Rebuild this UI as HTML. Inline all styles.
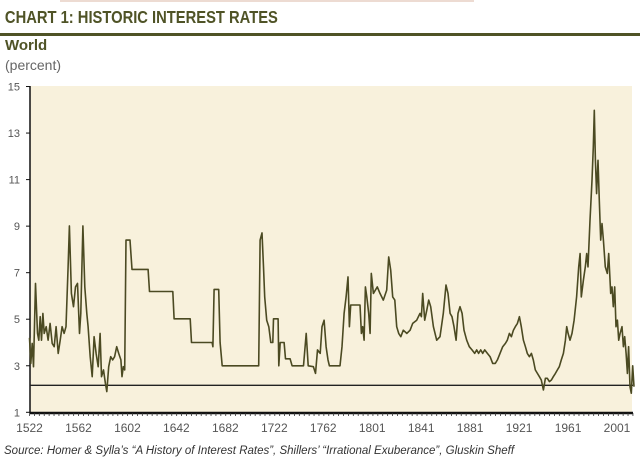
<!DOCTYPE html>
<html><head><meta charset="utf-8"><style>
html,body{margin:0;padding:0;background:#fff;}
body{width:640px;height:460px;overflow:hidden;position:relative;font-family:"Liberation Sans",sans-serif;}
svg{position:absolute;left:0;top:0;}
</style></head><body>
<svg width="640" height="460">
  <line x1="60" y1="1" x2="474" y2="1" stroke="#e7cfc4" stroke-width="1.5"/>
  <text x="6" y="23" font-size="18" font-weight="bold" fill="#4f5326" transform="scale(0.82,1)">CHART 1: HISTORIC INTEREST RATES</text>
  <rect x="0" y="33" width="640" height="3" fill="#4f5326"/>
  <text x="5" y="50" font-size="15" font-weight="bold" fill="#4f5326">World</text>
  <text x="5" y="70" font-size="14" fill="#666">(percent)</text>
  <rect x="30" y="86" width="602" height="326" fill="#f8f1dc"/>
  <g id="yaxis"></g>
  <g id="xaxis"></g>
  <g id="series"></g>
  <text x="4" y="454" font-size="11.5" font-style="italic" fill="#333">Source: Homer &amp; Sylla’s “A History of Interest Rates”, Shillers’ “Irrational Exuberance”, Gluskin Sheff</text>
</svg>
<script>
const yTicks=[1,3,5,7,9,11,13,15];
const xTickLabels=[1522,1562,1602,1642,1682,1722,1762,1801,1841,1881,1921,1961,2001];
const referenceLevel=2.16;
const years=[1522,1523.1,1524.2,1525.3,1526.9,1528.5,1529.6,1530.7,1531.8,1532.9,1534.0,1535.6,1537.2,1538.8,1540.5,1542.1,1543.7,1545.4,1547.0,1548.6,1550.2,1551.8,1553.5,1554.5,1556.2,1557.9,1559.5,1561.1,1562.8,1563.8,1565.5,1567.1,1568.7,1569.8,1571.5,1573.1,1574.7,1576.3,1578.0,1579.6,1580.7,1582.3,1583.9,1585.0,1586.6,1588.2,1589.8,1591.4,1593.1,1594.7,1596.5,1597.4,1598.5,1599.6,1600.7,1603.9,1605.6,1618.7,1619.8,1638.8,1639.9,1653.0,1654.1,1670.9,1671.5,1672.5,1676.3,1677.4,1679.1,1708.9,1710.0,1711.6,1712.8,1713.8,1715.4,1717.1,1718.7,1720.4,1720.9,1724.7,1725.3,1726.4,1729.6,1730.7,1734.5,1736.1,1745.4,1747.6,1749.2,1753.5,1755.2,1756.8,1759.0,
1760.5,1762.2,1763.8,1765.4,1766.5,1775.2,1776.8,1778.5,1780.1,1781.7,1782.8,1783.9,1791.5,1792.6,1793.7,1794.8,1795.9,1797.0,1798.6,1799.7,1800.7,1802.4,1804.0,1805.6,1807.8,1810.5,1813.2,1814.9,1816.5,1818.1,1819.8,1821.4,1823.0,1824.7,1826.8,1829.6,1832.3,1834.4,1837.7,1840.4,1841.5,1842.6,1844.2,1845.9,1847.5,1849.1,1851.3,1854.0,1856.7,1859.4,1861.6,1863.2,1864.9,1866.5,1868.1,1869.8,1871.4,1873.0,1874.7,1876.3,1878.5,1880.6,1882.8,1885.0,1886.6,1888.2,1889.9,1891.5,1893.1,1895.3,1897.5,1899.7,1901.8,1903.5,1905.6,1907.8,1910.0,1911.6,1913.3,1914.9,1916.5,1918.1,1919.8,1921.4,1923.0,1924.7,1926.3,1927.9,1929.6,1931.2,1932.8,1934.4,1936.1,1937.7,1939.3,1941.0,1942.6,1944.2,1945.9,1947.5,1949.1,1950.8,1952.4,1954.0,1955.6,1957.3,1958.9,1960.0,1961.1,1962.7,1964.3,1966.0,1968.1,1969.8,1970.9,1971.9,1973.6,1975.2,1976.3,1977.4,1979.0,1980.6,1981.7,1982.5,1983.4,1984.4,1985.5,1986.6,1987.7,1988.8,1989.9,1991.5,1993.1,1994.2,1995.9,1996.9,1998.0,1999.1,2000.2,2001.3,2002.4,2003.5,2005.1,2006.2,2007.3,2008.4,2009.5,2010.5,2011.6,2012.7,2013.8,2014.9];
const rates=[4.2,3.1,3.96,2.96,6.54,4.39,4.10,5.11,4.10,5.25,4.39,4.68,4.10,4.82,3.96,3.82,4.68,3.53,4.10,4.68,4.39,4.68,7.25,9.01,6.11,5.54,6.39,6.54,4.39,5.25,9.01,6.39,5.25,4.68,3.39,2.53,4.25,3.53,2.96,4.39,2.53,2.82,2.24,1.89,2.96,3.39,3.25,3.39,3.82,3.53,3.25,2.53,2.96,2.82,8.40,8.40,7.14,7.14,6.19,6.19,5.02,5.02,4.00,4.00,3.82,6.28,6.28,4.00,3.00,3.00,8.40,8.71,7.25,5.96,4.96,4.68,4.00,4.00,5.02,5.02,3.00,4.00,4.00,3.30,3.30,3.00,3.00,4.39,3.00,2.96,2.67,3.68,3.53,
4.68,4.96,3.82,3.25,3.00,3.00,3.82,5.25,5.96,6.82,4.68,5.61,5.61,4.39,4.68,4.10,6.39,5.96,5.25,4.39,6.97,6.11,6.25,6.39,6.11,5.82,6.25,7.68,7.11,5.96,5.82,4.68,4.39,4.25,4.53,4.39,4.53,4.82,4.96,5.25,5.11,6.11,4.96,5.39,5.82,5.54,4.68,4.10,4.25,5.25,6.47,6.11,5.25,5.11,4.68,4.10,5.25,5.54,5.25,4.53,4.10,3.82,3.68,3.53,3.68,3.53,3.68,3.53,3.68,3.53,3.39,3.10,3.10,3.25,3.53,3.82,3.96,4.10,4.39,4.25,4.53,4.68,4.82,5.11,4.68,4.10,3.82,3.53,3.39,3.53,3.25,2.82,2.67,2.53,2.39,1.96,2.46,2.46,2.32,2.39,2.53,2.67,2.82,2.96,3.25,3.53,4.10,4.68,4.39,4.10,4.39,4.96,5.96,7.25,7.82,5.96,6.68,7.25,7.82,7.25,9.25,10.97,12.40,13.98,11.83,10.40,11.83,10.11,8.40,9.11,8.40,7.25,6.97,7.82,6.11,6.39,5.54,6.39,4.68,4.96,4.10,4.39,4.68,3.82,4.25,3.53,2.67,3.82,2.10,1.82,3.00,2.10];

const NS='http://www.w3.org/2000/svg';
const X=y=>29.5+(y-1522)*1.2265;
const Y=v=>412.3-(v-1)*23.27;
function mk(tag,attrs,parent){const e=document.createElementNS(NS,tag);for(const k in attrs)e.setAttribute(k,attrs[k]);parent.appendChild(e);return e;}
const ya=document.getElementById('yaxis'),xa=document.getElementById('xaxis'),sg=document.getElementById('series');
mk('line',{x1:30,y1:86,x2:30,y2:413,stroke:'#111','stroke-width':1.5},ya);
yTicks.forEach(v=>{
  const t=mk('text',{x:20,y:Y(v)+4,'font-size':11,fill:'#555','text-anchor':'end'},ya);
  t.textContent=v;
  
  
  mk('line',{x1:26,y1:Y(v),x2:30,y2:Y(v),stroke:'#111','stroke-width':1},ya);
});
mk('line',{x1:30,y1:413,x2:633,y2:413,stroke:'#111','stroke-width':2.5},xa);
for(let yr=1522;X(yr)<=633;yr+=4){mk('line',{x1:X(yr),y1:413,x2:X(yr),y2:416,stroke:'#333','stroke-width':0.8},xa);}
xTickLabels.forEach((yr,i)=>{
  const t=mk('text',{x:29.5+i*48.96,y:432,'font-size':12,fill:'#555','text-anchor':'middle'},xa);
  t.textContent=yr;
  
  
});
const ref=mk('line',{x1:30,y1:Y(referenceLevel),x2:633,y2:Y(referenceLevel),stroke:'#222','stroke-width':1.3},sg);


let d='';years.forEach((yr,i)=>{d+=(i?'L':'M')+X(yr).toFixed(1)+','+Y(rates[i]).toFixed(1);});
const p=mk('path',{d:d,fill:'none',stroke:'#4b4a22','stroke-width':1.6,'stroke-linejoin':'round'},sg);


</script>
</body></html>
